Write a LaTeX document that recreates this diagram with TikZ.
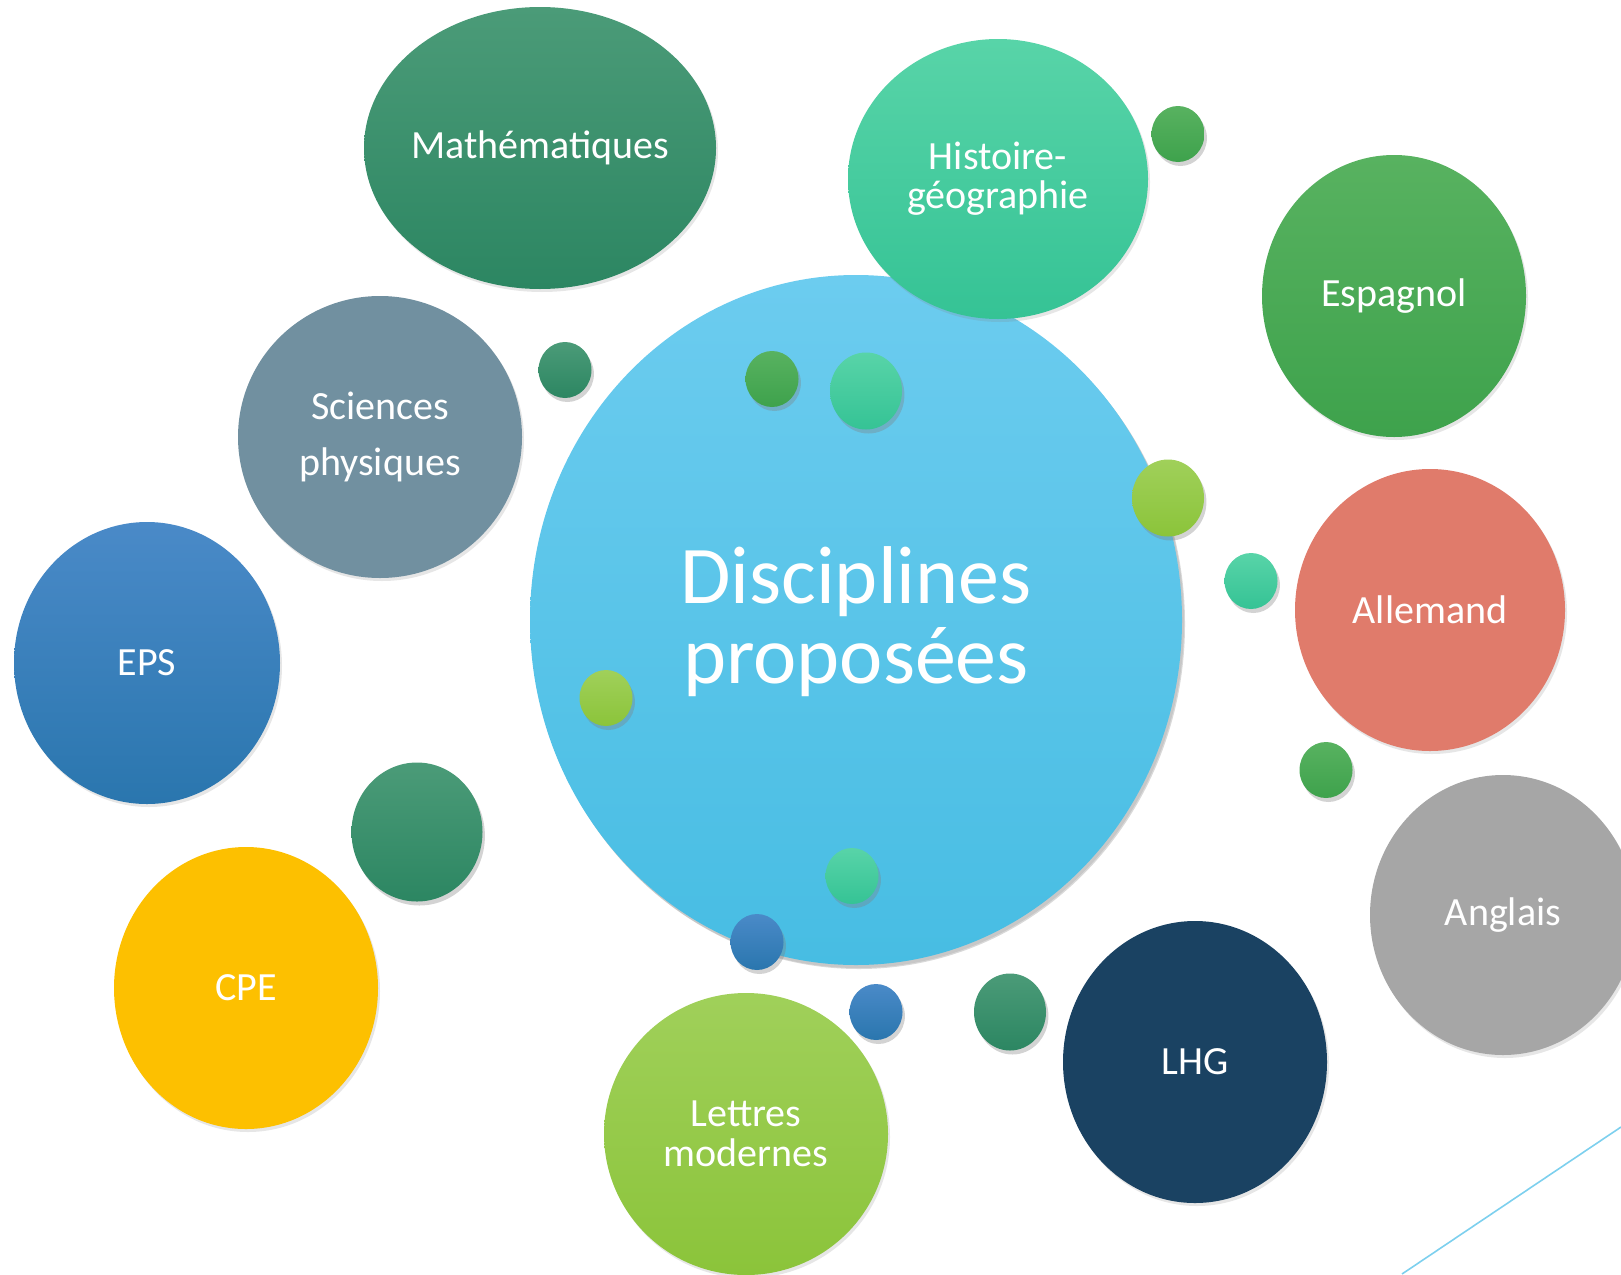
\documentclass[tikz,border=0pt]{standalone}
\usepackage{fontspec}
\setmainfont{Carlito}
\usetikzlibrary{shapes.geometric}
\usetikzlibrary{shadows}

% colours of the bubbles (top / bottom of the shading)
\definecolor{mainTop}{HTML}{6CCCEF}
\definecolor{mainBot}{HTML}{47BDE3}
\definecolor{mathTop}{HTML}{4B9B78}
\definecolor{mathBot}{HTML}{2C8662}
\definecolor{histTop}{HTML}{58D4A8}
\definecolor{histBot}{HTML}{35C395}
\definecolor{espTop}{HTML}{58B260}
\definecolor{espBot}{HTML}{3EA24C}
\definecolor{lettTop}{HTML}{A0D05A}
\definecolor{lettBot}{HTML}{8BC43A}
\definecolor{epsTop}{HTML}{4A8AC8}
\definecolor{epsBot}{HTML}{2A76AE}
\definecolor{sciCol}{HTML}{7190A0}
\definecolor{cpeCol}{HTML}{FDC000}
\definecolor{lhgCol}{HTML}{1A4262}
\definecolor{angCol}{HTML}{A6A6A6}
\definecolor{allCol}{HTML}{E07B6B}
\definecolor{lineCol}{HTML}{7DD0EE}

\tikzset{
  bubble/.style={ellipse, inner sep=0pt, text=white, align=center,
    font=\fontsize{20}{28}\selectfont,
    drop shadow={opacity=0.2, shadow xshift=1pt, shadow yshift=-1.5pt}},
  dot/.style={ellipse, inner sep=0pt, minimum width=26.5pt, minimum height=28pt,
    drop shadow={opacity=0.35, shadow xshift=1.2pt, shadow yshift=-2pt}},
  bigdot/.style={dot, minimum width=36pt, minimum height=38.5pt},
  mathshade/.style={top color=mathTop, bottom color=mathBot},
  histshade/.style={top color=histTop, bottom color=histBot},
  espshade/.style={top color=espTop, bottom color=espBot},
  lettshade/.style={top color=lettTop, bottom color=lettBot},
  epsshade/.style={top color=epsTop, bottom color=epsBot}
}

\begin{document}
\begin{tikzpicture}[x=0.5pt, y=-0.5pt]

	\useasboundingbox (0,0) rectangle (1621,1274);
	\clip (0,0) rectangle (1621,1274);

	% main bubble
	\node (main) [bubble, top color=mainTop, bottom color=mainBot,
		minimum width=326pt, minimum height=345pt,
		drop shadow={opacity=0.3, shadow xshift=1.5pt, shadow yshift=-2pt}] at (856,620) {};
	\node (mainText) at (856,622) [text=white, align=center,
		font=\fontsize{41}{40}\selectfont] {Disciplines\\proposées};

	% disciplines around
	\node (math) [bubble, mathshade, inner xsep=-20pt, minimum width=176pt, minimum height=141pt] at (540,148) {Mathématiques};
	\node (hist) [bubble, histshade, minimum width=150pt, minimum height=140pt,
		font=\fontsize{20}{19.5}\selectfont] at (998,179) {Histoire-\\géographie};
	\node (sci) [bubble, fill=sciCol, minimum width=142pt, minimum height=141pt] at (380,437) {Sciences\\physiques};
	\node (esp) [bubble, espshade, minimum width=132pt, minimum height=141pt] at (1394,296) {Espagnol};
	\node (eps) [bubble, epsshade, minimum width=133pt, minimum height=141pt] at (147,663) {EPS};
	\node (all) [bubble, fill=allCol, minimum width=135pt, minimum height=141pt] at (1430,610) {Allemand};
	\node (ang) [bubble, fill=angCol, minimum width=133pt, minimum height=140pt] at (1503,915) {Anglais};
	\node (cpe) [bubble, fill=cpeCol, minimum width=132pt, minimum height=141pt] at (246,988) {CPE};
	\node (lhg) [bubble, fill=lhgCol, minimum width=132pt, minimum height=141pt] at (1195,1062) {LHG};
	\node (lett) [bubble, lettshade, minimum width=142pt, minimum height=141pt,
		font=\fontsize{20}{20}\selectfont] at (746,1134) {Lettres\\modernes};

	% small dots
	\node (d1) [dot, mathshade] at (565,370) {};
	\node (d2) [dot, espshade] at (772,379) {};
	\node (d3) [dot, espshade] at (1178,134) {};
	\node (d4) [bigdot, histshade] at (866,391) {};
	\node (d5) [bigdot, lettshade] at (1168,498) {};
	\node (d6) [dot, histshade] at (1251,581) {};
	\node (d7) [dot, lettshade] at (606,698) {};
	\node (d8) [dot, mathshade, minimum width=65.5pt, minimum height=69.5pt] at (417,832) {};
	\node (d9) [dot, epsshade] at (757,942) {};
	\node (d10) [dot, histshade] at (852,876) {};
	\node (d11) [dot, epsshade] at (876,1012) {};
	\node (d12) [bigdot, mathshade] at (1010,1012) {};
	\node (d13) [dot, espshade] at (1326,770) {};

	% thin line in the corner
	\coordinate (lineA) at (1402,1274);
	\coordinate (lineB) at (1621,1127);
	\draw [lineCol, line width=0.8pt] (lineA) -- (lineB);

\end{tikzpicture}
\end{document}
